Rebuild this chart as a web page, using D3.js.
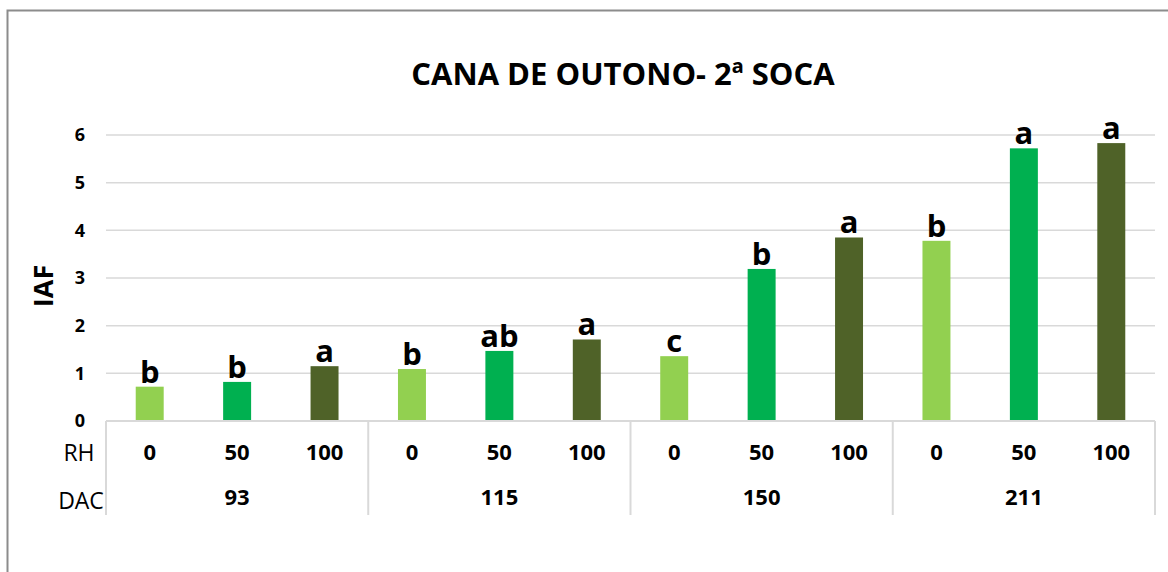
<!DOCTYPE html>
<html><head><meta charset="utf-8">
<script src="https://cdn.jsdelivr.net/npm/d3@7"></script>
<style>html,body{margin:0;padding:0;background:#fff;}svg{display:block;font-family:"Open Sans",sans-serif;}</style>
</head><body>
<svg id="c" width="1168" height="572"></svg>
<script>
const dacGroups = ["93", "115", "150", "211"];
const rhLevels = ["0", "50", "100"];
const iafValues = [0.72, 0.82, 1.15, 1.09, 1.47, 1.71, 1.36, 3.19, 3.85, 3.78, 5.72, 5.83];
const letters = ["b", "b", "a", "b", "ab", "a", "c", "b", "a", "b", "a", "a"];
const yTicks = [0, 1, 2, 3, 4, 5, 6];
const colors = ["#92d050", "#00b050", "#4f6228"];

const rows = [];
dacGroups.forEach((g, gi) => rhLevels.forEach((r, ri) => {
  const i = gi * rhLevels.length + ri;
  rows.push({key: g + "|" + r, dac: g, rh: r, ri, v: iafValues[i], L: letters[i]});
}));

const svg = d3.select("#c");
const pLeft = 106, pRight = 1155, pTop = 135, pBase = 421;

svg.append("rect").attr("x", 7.5).attr("y", 10.5).attr("width", 1200).attr("height", 700)
  .attr("fill", "none").attr("stroke", "#8c8c8c").attr("stroke-width", 2);

const x = d3.scaleBand().domain(rows.map(d => d.key)).range([pLeft, pRight]).paddingInner(0.68).paddingOuter(0.34);
const y = d3.scaleLinear().domain([0, 6]).range([pBase, pTop]);

// gridlines
svg.append("g").selectAll("line").data(yTicks.filter(t => t > 0)).join("line")
  .attr("x1", pLeft).attr("x2", pRight).attr("y1", d => y(d)).attr("y2", d => y(d))
  .attr("stroke", "#d9d9d9").attr("stroke-width", 1.5);

// y axis labels
const ya = svg.append("g").attr("transform", `translate(${pLeft},0)`)
  .call(d3.axisLeft(y).tickValues(yTicks).tickSize(0).tickPadding(21).tickFormat(d3.format("d")));
ya.select(".domain").remove();
ya.selectAll("text").attr("font-family", "Open Sans").attr("font-weight", "bold").attr("font-size", 18).attr("fill", "#000");

// bars
svg.append("g").selectAll("rect").data(rows).join("rect")
  .attr("x", d => x(d.key)).attr("width", x.bandwidth())
  .attr("y", d => y(d.v)).attr("height", d => pBase - y(d.v))
  .attr("fill", d => colors[d.ri]);

// letters
svg.append("g").selectAll("text").data(rows).join("text")
  .attr("x", d => x(d.key) + x.bandwidth() / 2).attr("y", d => y(d.v) - 4)
  .attr("text-anchor", "middle").attr("font-weight", "bold").attr("font-size", 31).attr("fill", "#000")
  .text(d => d.L);

// x axis baseline
svg.append("line").attr("x1", pLeft).attr("x2", pRight).attr("y1", pBase).attr("y2", pBase)
  .attr("stroke", "#d9d9d9").attr("stroke-width", 2);

// group separators
const sepX = d3.range(dacGroups.length + 1).map(i => pLeft + i * rhLevels.length * (pRight - pLeft) / rows.length);
svg.append("g").selectAll("line").data(sepX).join("line")
  .attr("x1", d => d).attr("x2", d => d).attr("y1", pBase).attr("y2", 515)
  .attr("stroke", "#d9d9d9").attr("stroke-width", 2);

// RH labels
svg.append("g").selectAll("text").data(rows).join("text")
  .attr("x", d => x(d.key) + x.bandwidth() / 2).attr("y", 460)
  .attr("text-anchor", "middle").attr("font-weight", "bold").attr("font-size", 22).attr("fill", "#000")
  .text(d => d.rh);

// DAC labels
svg.append("g").selectAll("text").data(dacGroups).join("text")
  .attr("x", (g, i) => (sepX[i] + sepX[i + 1]) / 2).attr("y", 505)
  .attr("text-anchor", "middle").attr("font-weight", "bold").attr("font-size", 22).attr("fill", "#000")
  .text(d => d);

svg.append("text").attr("x", 79).attr("y", 461).attr("text-anchor", "middle")
  .attr("font-size", 23).attr("fill", "#000").text("RH");
svg.append("text").attr("x", 81).attr("y", 509).attr("text-anchor", "middle")
  .attr("font-size", 23).attr("fill", "#000").text("DAC");

// y title
svg.append("text").attr("transform", "translate(53,286) rotate(-90)").attr("text-anchor", "middle")
  .attr("font-weight", "bold").attr("font-size", 27).attr("fill", "#000").text("IAF");

// chart title
svg.append("text").attr("x", 623).attr("y", 85).attr("text-anchor", "middle")
  .attr("font-weight", "bold").attr("font-size", 31).attr("fill", "#000").text("CANA DE OUTONO- 2ª SOCA");
</script>
</body></html>
